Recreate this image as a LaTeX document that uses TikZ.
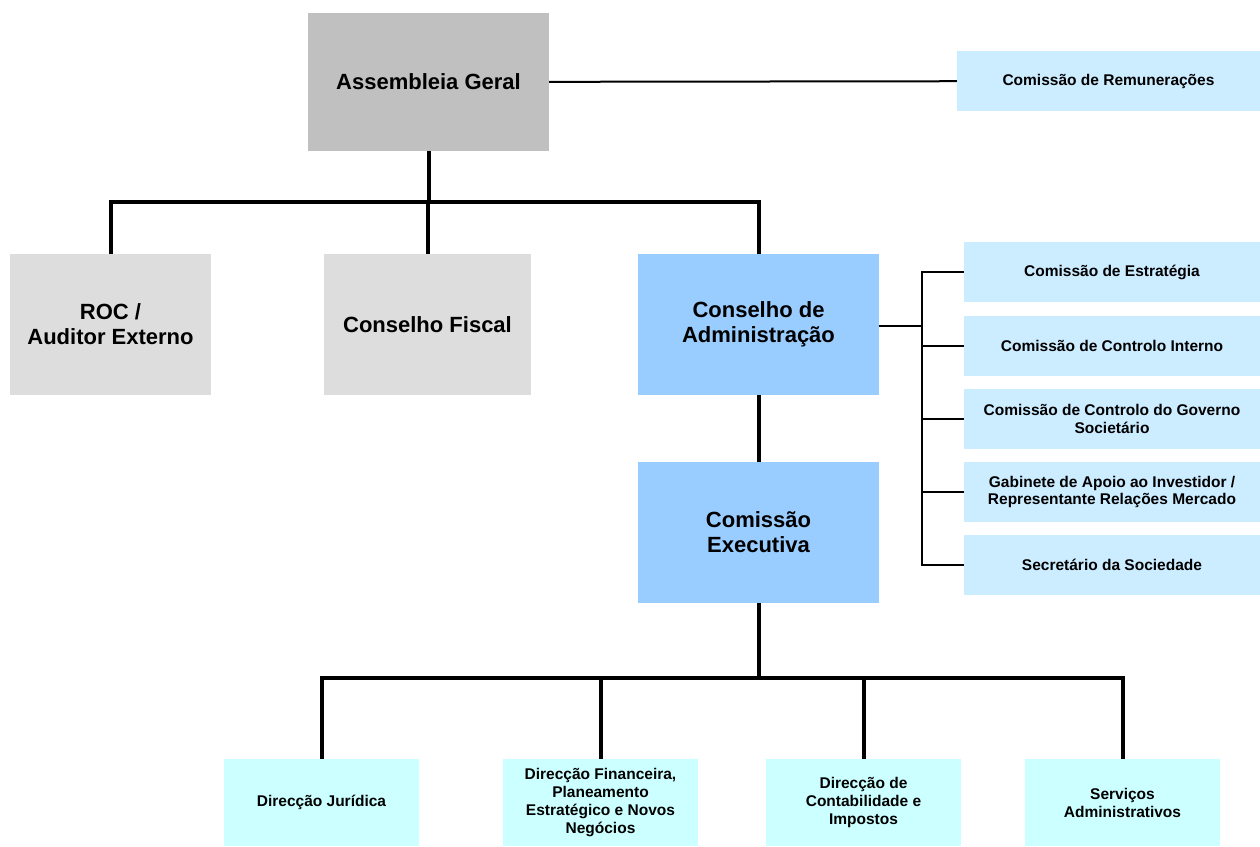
\documentclass[tikz,border=0pt]{standalone}
\usepackage{fontspec}
\setmainfont{Liberation Sans}
\definecolor{agray}{RGB}{192,192,192}
\definecolor{lgray}{RGB}{221,221,221}
\definecolor{cblue}{RGB}{153,204,255}
\definecolor{pblue}{RGB}{204,236,255}
\definecolor{pcyan}{RGB}{204,255,255}
\begin{document}
\begin{tikzpicture}[x=1pt, y=-1pt,
    box/.style={inner sep=2pt, align=center, font=\bfseries\fontsize{22}{25}\selectfont},
    small/.style={inner sep=2pt, align=center, font=\bfseries\fontsize{15.5}{17.5}\selectfont},
    heavy/.style={line width=4pt}, light/.style={line width=2.5pt}]
    \useasboundingbox (0, 0) rectangle (1260, 846);
    % top level
    \node [box, fill=agray, minimum width=241, minimum height=138] (ag) at (428.5, 82) {Assembleia Geral};
    \node [small, fill=pblue, minimum width=303, minimum height=60] (rem) at (1108.5, 81) {Comissão de Remunerações};
    \node [box, fill=lgray, minimum width=201, minimum height=141] (roc) at (110.5, 324.5) {ROC /\\Auditor Externo};
    \node [box, fill=lgray, minimum width=207, minimum height=141] (cf) at (427.5, 324.5) {Conselho Fiscal};
    \node [box, fill=cblue, minimum width=241, minimum height=141] (ca) at (758.5, 324.5) {Conselho de\\Administração};
    \node [box, fill=cblue, minimum width=241, minimum height=141] (ce) at (758.5, 532.5) {Comissão\\Executiva};
    % commissions
    \foreach \n/\y/\t in {c1/272/Comissão de Estratégia, c2/346/Comissão de Controlo Interno,
        c3/419/{Comissão de Controlo do Governo\\Societário},
        c4/492/{Gabinete de Apoio ao Investidor /\\Representante Relações Mercado},
        c5/565/Secretário da Sociedade}
    \node [small, fill=pblue, minimum width=296, minimum height=60] (\n) at (1112, \y) {\t};
    % departments
    \foreach \n/\x/\t in {dj/321.5/Direcção Jurídica,
        df/600.5/{Direcção Financeira,\\Planeamento\\Estratégico e Novos\\Negócios},
        dc/863.5/{Direcção de\\Contabilidade e\\Impostos}, ds/1122.5/{Serviços\\Administrativos}}
    \node [small, fill=pcyan, minimum width=195, minimum height=87, font=\bfseries\fontsize{15.5}{18}\selectfont] (\n) at (\x, 802.5) {\t};
    % connectors
    \coordinate (b1) at (428.5, 202);
    \coordinate (b2) at (758.5, 678);
    \coordinate (b3) at (922, 326);
    \draw [light, line width=2pt] (ag) -- (rem);
    \draw [heavy] (ag.south) -- (b1) (roc.north) |- (b1) -| (ca.north) (cf.north) -- (cf.north |- b1);
    \draw [heavy] (ca) -- (ce);
    \draw [heavy] (ce.south) -- (b2) (dj.north) |- (b2) -| (ds.north);
    \foreach \n in {df, dc} \draw [heavy] (\n.north) -- (\n.north |- b2);
    \draw [light] (ca.east |- b3) -- (b3);
    \draw [light] (c1.west) -- (c1.west -| b3) -- (c5.west -| b3) -- (c5.west);
    \foreach \n in {c2, c3, c4} \draw [light] (\n.west) -- (\n.west -| b3);
\end{tikzpicture}
\end{document}
